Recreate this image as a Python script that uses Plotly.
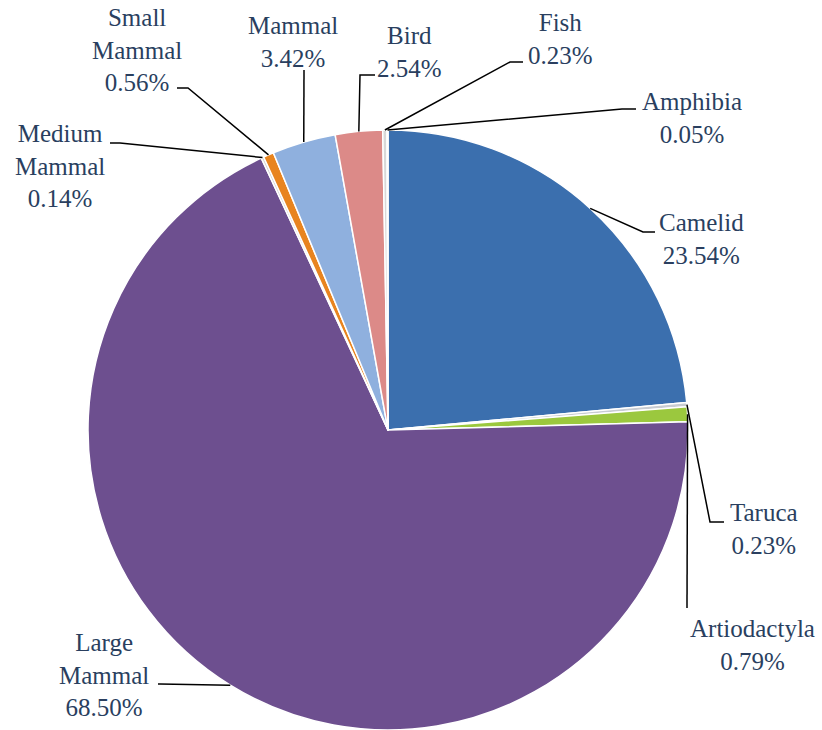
import math
import plotly.graph_objects as go

# Faunal composition (% of specimens), listed clockwise from 12 o'clock
categories = ["Camelid", "Taruca", "Artiodactyla", "Large Mammal", "Medium Mammal",
              "Small Mammal", "Mammal", "Bird", "Fish", "Amphibia"]
percentages = [23.54, 0.23, 0.79, 68.50, 0.14, 0.56, 3.42, 2.54, 0.23, 0.05]
label_lines = ["Camelid", "Taruca", "Artiodactyla", "Large<br>Mammal", "Medium<br>Mammal",
               "Small<br>Mammal", "Mammal", "Bird", "Fish", "Amphibia"]

colors = ["#3b6fae", "#c8ccd2", "#9bc83e", "#6d4f8f", "#d4d4d4",
          "#e8841f", "#8fb0de", "#dc8a88", "#d8d8d8", "#c4c4c4"]

W, H = 822, 730
CX, CY, R = 388, 430, 300          # pie centre and radius in pixels
SERIF = "Liberation Serif"
TEXT_INK = "#2a3f5f"
LINE_INK = "#000000"

# label block centres and leader-line elbow / end points (pixels)
label_pos = [(701, 239), (764, 529), (752, 645), (104, 675), (60, 166),
             (137, 50), (293, 42), (409, 52), (560, 39), (692, 118)]
elbows = [(643, 232), (710, 522), (687, 608), (160, 684), (120, 143),
          (188, 88), (304, 70), (360, 75), (510, 62), (622, 109)]
ends = [(655, 232), (724, 522), (687, 608), (158, 684), (110, 143),
        (177, 88), (304, 70), (375, 75), (523, 62), (636, 109)]


def px(x):
    return x / W


def py(y):
    return 1 - y / H


fig = go.Figure()
fig.add_trace(go.Pie(
    labels=categories,
    values=percentages,
    sort=False,
    direction="clockwise",
    rotation=0,
    textinfo="none",
    hoverinfo="label+percent",
    marker=dict(colors=colors, line=dict(color="#ffffff", width=1.5)),
    domain=dict(x=[px(CX - R), px(CX + R)], y=[py(CY + R), py(CY - R)]),
    showlegend=False,
))

annotations = []
shapes = []
total = sum(percentages)
cum = 0.0
for name, val, (lx, ly), (ex, ey), (tx, ty) in zip(label_lines, percentages, label_pos, elbows, ends):
    mid = (cum + val / 2) / total * 2 * math.pi
    cum += val
    sx = CX + R * math.sin(mid)
    sy = CY - R * math.cos(mid)
    shapes.append(dict(
        type="path", xref="paper", yref="paper",
        path=f"M {px(sx)},{py(sy)} L {px(ex)},{py(ey)} L {px(tx)},{py(ty)}",
        line=dict(color=LINE_INK, width=1.5),
    ))
    annotations.append(dict(
        x=px(lx), y=py(ly), xref="paper", yref="paper",
        text=f"{name}<br>{val:.2f}%", showarrow=False,
        xanchor="center", yanchor="middle", align="center",
        font=dict(family=SERIF, size=25, color=TEXT_INK),
    ))

fig.update_layout(
    width=W, height=H,
    margin=dict(l=0, r=0, t=0, b=0),
    paper_bgcolor="#ffffff",
    plot_bgcolor="#ffffff",
    font=dict(family=SERIF),
    shapes=shapes,
    annotations=annotations,
)

fig.write_html("out.html")
